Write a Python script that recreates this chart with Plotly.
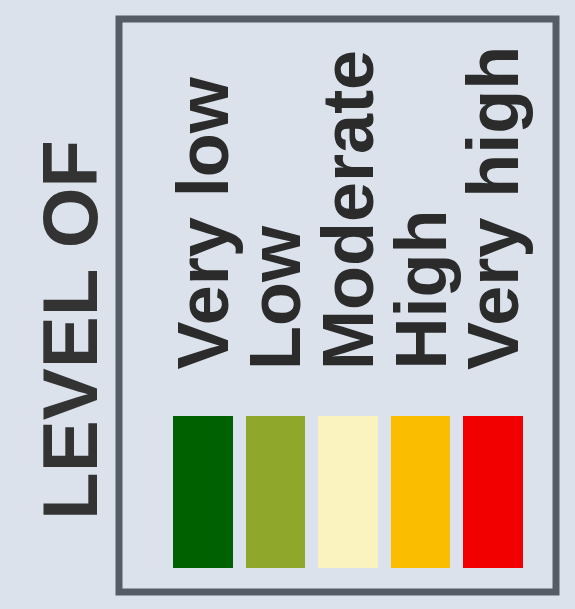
import plotly.graph_objects as go

# Data
categories = ["Very low", "Low", "Moderate", "High", "Very high"]
values = [1, 1, 1, 1, 1]
colors = ["#006100", "#8fa82b", "#fbf3bf", "#fbbd00", "#f20000"]
title_text = "LEVEL OF"

W, H = 575, 609
BG = "#dbe2ec"

fig = go.Figure()
fig.add_trace(go.Bar(
    x=list(range(len(categories))),
    y=values,
    marker=dict(color=colors, line=dict(width=0)),
    width=0.82,
    hoverinfo="skip",
    showlegend=False,
))

# rotated category labels
for i, lab in enumerate(categories):
    fig.add_annotation(
        x=i, y=1.29, xref="x", yref="y",
        text="<b>" + lab + "</b>",
        textangle=-90, showarrow=False,
        xanchor="center", yanchor="bottom",
        font=dict(family="Liberation Sans, Arial, sans-serif", size=72, color="#2b2b2b"),
    )

# legend title
fig.add_annotation(
    x=70 / W, y=1 - 330 / H, xref="paper", yref="paper",
    text="<b>" + title_text + "</b>",
    textangle=-90, showarrow=False,
    xanchor="center", yanchor="middle",
    font=dict(family="Liberation Sans, Arial, sans-serif", size=78, color="#333333"),
)

# frame
fig.add_shape(
    type="rect", xref="paper", yref="paper",
    x0=119 / W, x1=556 / W, y0=1 - 592 / H, y1=1 - 19 / H,
    line=dict(color="#555c66", width=7),
    fillcolor="rgba(0,0,0,0)", layer="above",
)

fig.update_layout(
    width=W, height=H,
    margin=dict(l=0, r=0, t=0, b=0),
    paper_bgcolor=BG, plot_bgcolor=BG,
    xaxis=dict(range=[-2.8, 5.131], visible=False, fixedrange=True),
    yaxis=dict(range=[-0.27, 3.737], visible=False, fixedrange=True),
    bargap=0,
)

fig.write_html(
    "out.html",
    config={"displayModeBar": False},
    post_script="document.body.style.margin='0';document.body.style.background='%s';" % BG,
)
